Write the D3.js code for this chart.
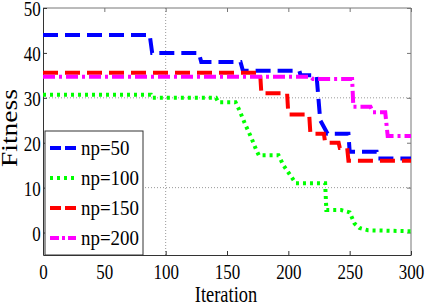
<!DOCTYPE html>
<html lang="en">
<head>
<meta charset="UTF-8" />
<title>Fitness vs Iteration</title>
<style>
  body { margin: 0; background: #fff; }
  text { font-family: "Liberation Serif", "Times New Roman", serif; fill: #000; }
</style>
</head>
<body>
<div id="chart"></div>
<script src="https://cdn.jsdelivr.net/npm/d3@7/dist/d3.min.js"></script>
<script>
// series: breakpoints of each convergence curve
var seriesNames = ["np=50", "np=100", "np=150", "np=200"];

var np50Iter = [0, 87, 89, 127, 129, 161, 163, 209, 210, 223, 226, 229, 232, 249, 250, 272, 273, 300];
var np50Fit  = [44, 44, 40, 40, 38, 38, 36, 36, 35, 35, 25, 23.5, 22, 22, 18, 18, 16.5, 16.5];

var np100Iter = [0, 88, 89, 141, 143, 157, 160, 165, 170, 174, 176, 192, 196, 201, 206, 230, 231, 243, 250, 254, 258, 265, 300];
var np100Fit  = [30.7, 30.7, 30, 30, 29, 29, 27.3, 24, 21, 18.3, 17.2, 17.2, 15, 13, 11, 11, 5, 5, 4.5, 2, 1, 0.5, 0.3];

var np150Iter = [0, 177, 178, 199, 200, 217, 218, 229, 230, 241, 242, 248, 249, 300];
var np150Fit  = [35.6, 35.6, 31, 31, 26.3, 26.3, 22, 22, 20, 20, 18.8, 18.8, 16, 16];

var np200Iter = [0, 218, 220, 252, 253, 267, 269, 279, 281, 300];
var np200Fit  = [34.7, 34.7, 34.2, 34.2, 28, 28, 26.8, 26.8, 21.5, 21.5];

var xTicks = [0, 50, 100, 150, 200, 250, 300];
var yTicks = [0, 10, 20, 30, 40, 50];
var xGrid = [100];
var yGrid = [10, 30];

var w = 425, h = 304;
var pLeft = 43, pRight = 411, pTop = 8, pBottom = 255;
var serif = "'Liberation Serif', 'Times New Roman', serif";

var svg = d3.select("#chart").append("svg")
  .attr("width", w)
  .attr("height", h);

var xScale = d3.scaleLinear().domain([0, 300]).range([pLeft, pRight]);
var yScale = d3.scaleLinear().domain([-5, 50]).range([pBottom, pTop]);

// grid (dotted)
svg.selectAll("line.vgrid").data(xGrid).enter().append("line")
  .attr("class", "vgrid")
  .attr("x1", function(d) { return xScale(d); })
  .attr("x2", function(d) { return xScale(d); })
  .attr("y1", pTop).attr("y2", pBottom)
  .attr("stroke", "#999").attr("stroke-dasharray", "1,2");

svg.selectAll("line.hgrid").data(yGrid).enter().append("line")
  .attr("class", "hgrid")
  .attr("x1", pLeft).attr("x2", pRight)
  .attr("y1", function(d) { return yScale(d); })
  .attr("y2", function(d) { return yScale(d); })
  .attr("stroke", "#999").attr("stroke-dasharray", "1,2");

// frame
svg.append("line").attr("x1", pLeft).attr("x2", pRight).attr("y1", pTop).attr("y2", pTop).attr("stroke", "#777");
svg.append("line").attr("x1", pRight).attr("x2", pRight).attr("y1", pTop).attr("y2", pBottom).attr("stroke", "#777");

// top / right minor ticks
var xTop = d3.axisTop(xScale).tickValues(xTicks).tickSizeInner(-4).tickSizeOuter(0).tickFormat("");
svg.append("g").attr("transform", "translate(0," + pTop + ")").call(xTop)
  .call(function(g) { g.select(".domain").remove(); g.selectAll("line").attr("stroke", "#777"); });
var yRight = d3.axisRight(yScale).tickValues(yTicks).tickSizeInner(-4).tickSizeOuter(0).tickFormat("");
svg.append("g").attr("transform", "translate(" + pRight + ",0)").call(yRight)
  .call(function(g) { g.select(".domain").remove(); g.selectAll("line").attr("stroke", "#777"); });

// bottom axis
var xAxis = d3.axisBottom(xScale).tickValues(xTicks).tickSizeInner(-4).tickSizeOuter(0);
var gx = svg.append("g").attr("transform", "translate(0," + pBottom + ")").call(xAxis)
  .attr("font-family", serif).attr("font-size", 22);
gx.select(".domain").attr("stroke", "#333");
gx.selectAll("line").attr("stroke", "#333");
gx.selectAll("text")
  .attr("y", 24).attr("dy", null)
  .attr("transform", "scale(0.77,1)")
  .attr("fill", "#000");

// left axis
var yAxis = d3.axisLeft(yScale).tickValues(yTicks).tickSizeInner(-4).tickSizeOuter(0).tickPadding(3);
var gy = svg.append("g").attr("transform", "translate(" + pLeft + ",0)").call(yAxis)
  .attr("font-family", serif).attr("font-size", 22);
gy.select(".domain").attr("stroke", "#333");
gy.selectAll("line").attr("stroke", "#333");
gy.selectAll("text")
  .attr("dy", "0.34em")
  .attr("transform", "scale(0.77,1)")
  .attr("fill", "#000");

// curves
function zip(xs, ys) { return xs.map(function(x, i) { return [x, ys[i]]; }); }
var series = [
  { name: seriesNames[0], pts: zip(np50Iter, np50Fit),   color: "#0000ff", dash: "15,7" },
  { name: seriesNames[1], pts: zip(np100Iter, np100Fit), color: "#00ff00", dash: "3,4" },
  { name: seriesNames[2], pts: zip(np150Iter, np150Fit), color: "#ff0000", dash: "15,7" },
  { name: seriesNames[3], pts: zip(np200Iter, np200Fit), color: "#ff00ff", dash: "12,4,3,4" }
];

var line = d3.line()
  .x(function(d) { return xScale(d[0]); })
  .y(function(d) { return yScale(d[1]); });

svg.selectAll("path.curve").data(series).enter().append("path")
  .attr("class", "curve")
  .attr("d", function(d) { return line(d.pts); })
  .attr("fill", "none")
  .attr("stroke", function(d) { return d.color; })
  .attr("stroke-width", 4)
  .attr("stroke-dasharray", function(d) { return d.dash; });

// legend
var legend = svg.append("g");
legend.append("rect")
  .attr("x", 45).attr("y", 131).attr("width", 98).attr("height", 124)
  .attr("fill", "#fff").attr("stroke", "#333");

var rows = legend.selectAll("g.row").data(series).enter().append("g")
  .attr("class", "row")
  .attr("transform", function(d, i) { return "translate(0," + (148 + i * 30) + ")"; });
rows.append("line")
  .attr("x1", 50).attr("x2", 76).attr("y1", 0).attr("y2", 0)
  .attr("stroke", function(d) { return d.color; })
  .attr("stroke-width", 4)
  .attr("stroke-dasharray", function(d) { return d.name === "np=200" ? "9,3,3,3" : (d.name === "np=100" ? "3,4" : "11,4"); });
rows.append("text")
  .attr("transform", "translate(81,7) scale(0.9,1)")
  .style("font-size", "21px")
  .text(function(d) { return d.name; });

// axis titles
svg.append("text")
  .attr("transform", "translate(226,302) scale(0.8,1)")
  .attr("text-anchor", "middle")
  .style("font-size", "23px")
  .text("Iteration");

svg.append("text")
  .attr("transform", "translate(17,128) rotate(-90) scale(1.2,1)")
  .attr("text-anchor", "middle")
  .style("font-size", "23px")
  .text("Fitness");
</script>
</body>
</html>
